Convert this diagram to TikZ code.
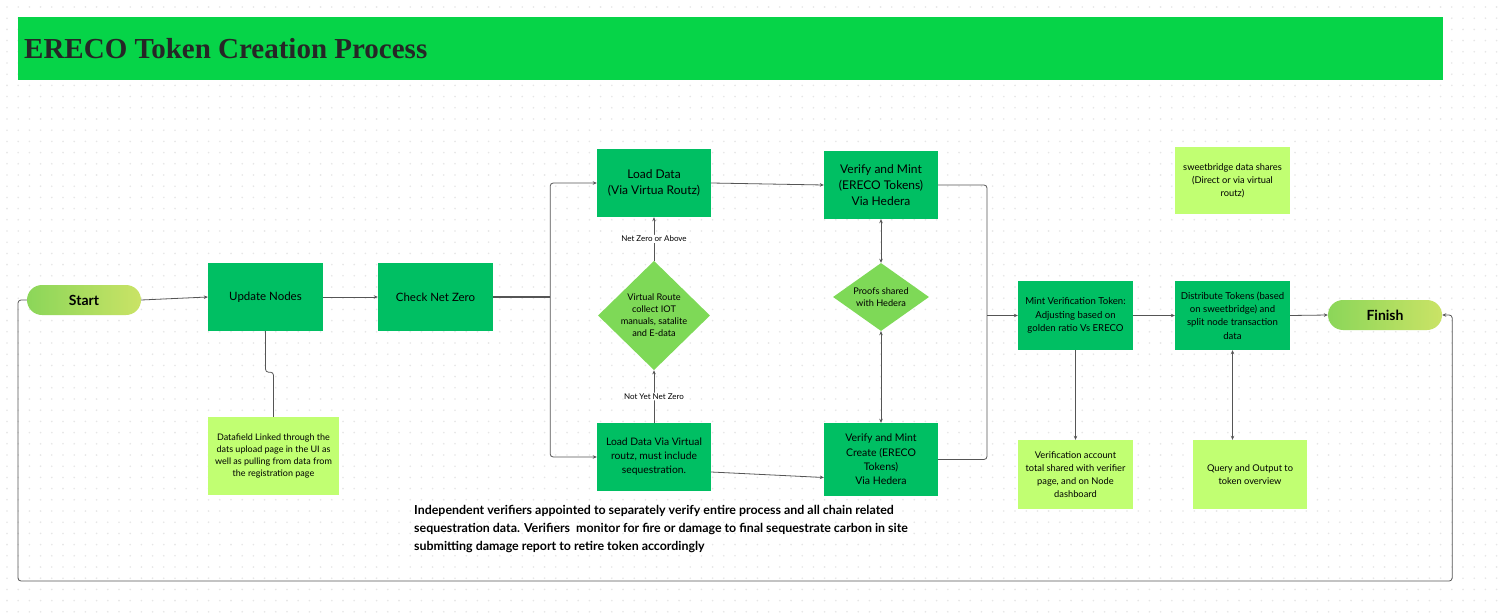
\documentclass[tikz,border=0pt]{standalone}
\usepackage{fontspec}
\setmainfont{Lato}
\newfontfamily\titlefont{Liberation Serif}
\usepackage{tikz}
\usetikzlibrary{arrows.meta, shapes.geometric, calc}
\usetikzlibrary{positioning}

\definecolor{bargreen}{HTML}{06D448}
\definecolor{boxgreen}{HTML}{00BF63}
\definecolor{limebox}{HTML}{C1FF72}
\definecolor{diagreen}{HTML}{7ED957}
\definecolor{pillleft}{HTML}{8BD659}
\definecolor{pillright}{HTML}{CAE366}
\definecolor{linegray}{HTML}{555555}
\definecolor{dotgray}{HTML}{E6E6E6}

\begin{document}
\begin{tikzpicture}[x=1pt, y=-1pt,
    link/.style={draw=linegray, line width=0.8pt, rounded corners=3pt},
    arrow/.style={link, -{Stealth[length=4pt, width=3.5pt]}},
    twoway/.style={link, {Stealth[length=4pt, width=3.5pt]}-{Stealth[length=4pt, width=3.5pt]}},
    process/.style={rectangle, fill=boxgreen, align=center, inner sep=2pt},
    note/.style={rectangle, fill=limebox, align=center, inner sep=2pt, font=\fontsize{9.3}{13}\selectfont},
    decision/.style={diamond, fill=diagreen, align=center, inner sep=0pt, font=\fontsize{9.2}{12}\selectfont},
    terminal/.style={rectangle, rounded corners=15pt, left color=pillleft, right color=pillright, minimum width=114pt, minimum height=30pt, font=\bfseries\fontsize{14}{16}\selectfont},
    edgelabel/.style={fill=white, inner sep=1pt, font=\fontsize{8}{9}\selectfont}]
    \useasboundingbox (0,0) rectangle (1503,615);
    \fill[white] (0,0) rectangle (1503,615);
    % dotted canvas
    \foreach \y in {7,18.2,...,612} {
        \fill[dotgray] \foreach \x in {7,18.2,...,1500} {(\x,\y) circle (0.9)};
    }
    % title bar
    \fill[bargreen] (18,17) rectangle (1443,80);
    \node[anchor=west, inner sep=0pt, text=black!85, font=\titlefont\bfseries\fontsize{29}{30}\selectfont] (title) at (24,49) {ERECO Token Creation Process};

    % main row
    \node[terminal] (start) at (84,300) {Start};
    \node[process, minimum width=115pt, minimum height=68pt, font=\fontsize{11.5}{13}\selectfont] (upd) at (265.5,297) {Update Nodes};
    \node[process, minimum width=115pt, minimum height=68pt, font=\fontsize{11.5}{13}\selectfont] (chk) at (435.5,297) {Check Net Zero};
    \node[note, minimum width=131pt, minimum height=78pt, font=\fontsize{9}{12}\selectfont] (datafield) at (273.5,456) {Datafield Linked through the\\dats upload page in the UI as\\well as pulling from data from\\the registration page};

    % load and route
    \node[process, minimum width=114pt, minimum height=68pt, font=\fontsize{12}{16.5}\selectfont] (load) at (654,183) {Load Data\\(Via Virtua Routz)};
    \node[process, minimum width=114pt, minimum height=68pt, font=\fontsize{10.3}{14}\selectfont] (loadv) at (654,457) {Load Data Via Virtual\\routz, must include\\sequestration.};
    \node[decision, minimum width=112pt, minimum height=106pt] (route) at (654,315.5) {Virtual Route\\collect IOT\\manuals, satalite\\and E-data};

    % verify and mint
    \node[process, minimum width=114pt, minimum height=68pt, font=\fontsize{12}{16}\selectfont] (verA) at (881,185) {Verify and Mint\\(ERECO Tokens)\\Via Hedera};
    \node[process, minimum width=114pt, minimum height=73pt, font=\fontsize{10.5}{14.3}\selectfont] (verB) at (881,459.5) {Verify and Mint\\Create (ERECO\\Tokens)\\Via Hedera};
    \node[decision, minimum width=96pt, minimum height=68pt, aspect=1.4] (proofs) at (881,297) {Proofs shared\\with Hedera};

    % right part
    \node[process, minimum width=115pt, minimum height=69pt, font=\fontsize{9.6}{13.7}\selectfont] (mint) at (1075.5,315.5) {Mint Verification Token:\\Adjusting based on\\golden ratio Vs ERECO};
    \node[process, minimum width=115pt, minimum height=69pt, font=\fontsize{9.6}{13.3}\selectfont] (dist) at (1232.5,315.5) {Distribute Tokens (based\\on sweetbridge) and\\split node transaction\\data};
    \node[note, minimum width=115pt, minimum height=67pt, anchor=center] (sweet) at (1232.5,180.5) {sweetbridge data shares\\(Direct or via virtual\\routz)};
    \node[terminal] (finish) at (1385,315) {Finish};
    \node[note, minimum width=115pt, minimum height=69pt] (vacc) at (1075.5,474.5) {Verification account\\total shared with verifier\\page, and on Node\\dashboard};
    \node[note, minimum width=114pt, minimum height=69pt] (query) at (1250,474.5) {Query and Output to\\token overview};

    % bottom note
    \node[anchor=north west, align=left, inner sep=0pt, font=\bfseries\fontsize{12.4}{18}\selectfont] (verifiers) at (414,505) {Independent verifiers appointed to separately verify entire process and all chain related\\sequestration data. Verifiers\ \ monitor for fire or damage to final sequestrate carbon in site\\submitting damage report to retire token accordingly};

    % connectors
    \draw[arrow] (start.east) -- (upd.west);
    \draw[arrow] (upd.east) -- (chk.west);
    \draw[link] (upd.south) -- ++(0,41) -| (datafield.north);
    \draw[link, line width=1.4pt] (chk.east) -- ++(57,0) coordinate (split1);
    \draw[arrow] (split1) |- (load.west);
    \draw[arrow] (split1) |- (loadv.west);
    \draw[arrow] (route.north) -- (load.south) node[midway, edgelabel] {Net Zero or Above};
    \draw[arrow] (loadv.north) -- (route.south) node[midway, edgelabel] {Not Yet Net Zero};
    \draw[arrow] (load.east) -- (verA.west);
    \draw[arrow] ([yshift=-15pt]loadv.east) -- ([yshift=-18pt]verB.west);
    \draw[twoway] (verA.south) -- (proofs.north);
    \draw[twoway] (proofs.south) -- (verB.north);
    \coordinate (split2) at (987,315.5);
    \draw[link] (verA.east) -| (split2);
    \draw[link] (verB.east) -| (split2);
    \draw[arrow] (split2) -- (mint.west);
    \draw[arrow] (mint.east) -- (dist.west);
    \draw[arrow] (dist.east) -- (finish.west);
    \draw[arrow] (mint.south) -- (vacc.north);
    \draw[twoway] (dist.south) -- (dist.south |- query.north);
    \draw[arrow] (start.west) -| (18,581) -| ([xshift=10pt]finish.east) -- (finish.east);
\end{tikzpicture}
\end{document}
